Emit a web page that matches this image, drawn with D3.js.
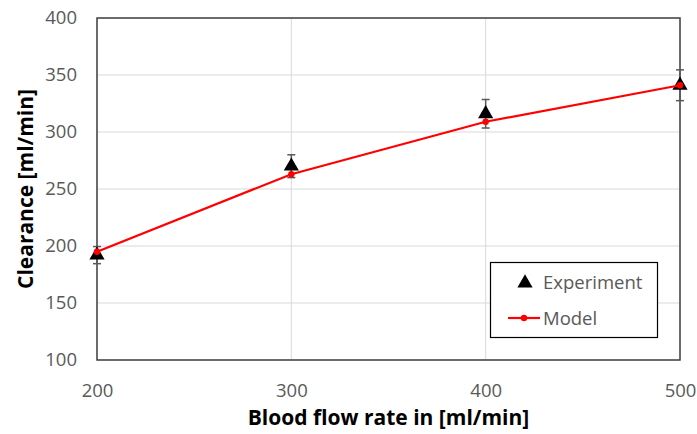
<!DOCTYPE html>
<html>
<head>
<meta charset="utf-8">
<script src="https://cdn.jsdelivr.net/npm/d3@7"></script>
<style>
  body { margin: 0; background: #fff; }
  svg { display: block; font-family: "Open Sans", "Liberation Sans", sans-serif; }
</style>
</head>
<body>
<div id="chart"></div>
<script>
// chart data
var flowRates = [200, 300, 400, 500];
var experiment = [192, 270, 316, 341];
var experimentErr = [7.5, 10, 12.5, 13.5];
var model = [195, 263, 309, 341];
var xTicks = [200, 300, 400, 500];
var yTicks = [100, 150, 200, 250, 300, 350, 400];

var width = 697, height = 434;
var margin = { top: 18, right: 17, bottom: 74, left: 97 };

var svg = d3.select('#chart').append('svg')
  .attr('width', width)
  .attr('height', height);

var x = d3.scaleLinear().domain([200, 500]).range([margin.left, width - margin.right]);
var y = d3.scaleLinear().domain([100, 400]).range([height - margin.bottom, margin.top]);

// grid
svg.append('g').selectAll('line.gy').data(yTicks).enter().append('line')
  .attr('x1', margin.left).attr('x2', width - margin.right)
  .attr('y1', function (d) { return y(d); }).attr('y2', function (d) { return y(d); })
  .attr('stroke', '#d9d9d9').attr('stroke-width', 1);
svg.append('g').selectAll('line.gx').data(xTicks).enter().append('line')
  .attr('y1', margin.top).attr('y2', height - margin.bottom)
  .attr('x1', function (d) { return x(d); }).attr('x2', function (d) { return x(d); })
  .attr('stroke', '#d9d9d9').attr('stroke-width', 1);

// axes (labels only)
var xAxis = svg.append('g')
  .attr('transform', 'translate(0,' + (height - margin.bottom + 16) + ')')
  .call(d3.axisBottom(x).tickValues(xTicks).tickSize(0).tickPadding(8));
var yAxis = svg.append('g')
  .attr('transform', 'translate(' + (margin.left - 20) + ',0)')
  .call(d3.axisLeft(y).tickValues(yTicks).tickSize(0).tickPadding(0));
[xAxis, yAxis].forEach(function (ax) {
  ax.select('.domain').remove();
  ax.selectAll('text').attr('fill', '#595959').style('font-size', '18.5px')
    .style('font-family', '"Open Sans", "Liberation Sans", sans-serif');
});

// frame
svg.append('rect')
  .attr('x', margin.left).attr('y', margin.top)
  .attr('width', width - margin.left - margin.right)
  .attr('height', height - margin.top - margin.bottom)
  .attr('fill', 'none').attr('stroke', '#404040').attr('stroke-width', 1.5);

// error bars
var errs = svg.append('g').selectAll('g').data(flowRates).enter().append('g');
errs.append('line')
  .attr('x1', function (d) { return x(d); }).attr('x2', function (d) { return x(d); })
  .attr('y1', function (d, i) { return y(experiment[i] - experimentErr[i]); })
  .attr('y2', function (d, i) { return y(experiment[i] + experimentErr[i]); })
  .attr('stroke', '#595959').attr('stroke-width', 1.5);
[-1, 1].forEach(function (s) {
  errs.append('line')
    .attr('x1', function (d) { return x(d) - 4; }).attr('x2', function (d) { return x(d) + 4; })
    .attr('y1', function (d, i) { return y(experiment[i] + s * experimentErr[i]); })
    .attr('y2', function (d, i) { return y(experiment[i] + s * experimentErr[i]); })
    .attr('stroke', '#595959').attr('stroke-width', 1.5);
});

// experiment markers
var tri = d3.symbol().type(d3.symbolTriangle).size(100);
svg.append('g').selectAll('path').data(flowRates).enter().append('path')
  .attr('d', tri)
  .attr('transform', function (d, i) { return 'translate(' + x(d) + ',' + y(experiment[i]) + ')'; })
  .attr('fill', '#000');

// model line
var line = d3.line()
  .x(function (d) { return x(d); })
  .y(function (d, i) { return y(model[i]); });
svg.append('path').datum(flowRates)
  .attr('d', line)
  .attr('fill', 'none').attr('stroke', '#ff0000').attr('stroke-width', 2.2);
svg.append('g').selectAll('circle').data(flowRates).enter().append('circle')
  .attr('cx', function (d) { return x(d); })
  .attr('cy', function (d, i) { return y(model[i]); })
  .attr('r', 3.2).attr('fill', '#ff0000');

// legend
var lg = svg.append('g');
lg.append('rect').attr('x', 490.5).attr('y', 262.5).attr('width', 167).attr('height', 75)
  .attr('fill', '#fff').attr('stroke', '#000').attr('stroke-width', 1.2);
lg.append('path').attr('d', tri).attr('transform', 'translate(525,283)').attr('fill', '#000');
lg.append('text').attr('x', 543).attr('y', 289).text('Experiment')
  .attr('fill', '#595959').style('font-size', '18.5px');
lg.append('line').attr('x1', 508).attr('x2', 540).attr('y1', 318).attr('y2', 318)
  .attr('stroke', '#ff0000').attr('stroke-width', 2.2);
lg.append('circle').attr('cx', 524).attr('cy', 318).attr('r', 3.2).attr('fill', '#ff0000');
lg.append('text').attr('x', 543).attr('y', 325).text('Model')
  .attr('fill', '#595959').style('font-size', '18.5px');

// axis titles
svg.append('text')
  .attr('x', (margin.left + width - margin.right) / 2).attr('y', 425)
  .attr('text-anchor', 'middle')
  .style('font-size', '21px').style('font-weight', 'bold')
  .text('Blood flow rate in [ml/min]');
svg.append('text')
  .attr('transform', 'translate(33,' + ((margin.top + height - margin.bottom) / 2) + ') rotate(-90)')
  .attr('text-anchor', 'middle')
  .style('font-size', '21px').style('font-weight', 'bold')
  .text('Clearance [ml/min]');
</script>
</body>
</html>
